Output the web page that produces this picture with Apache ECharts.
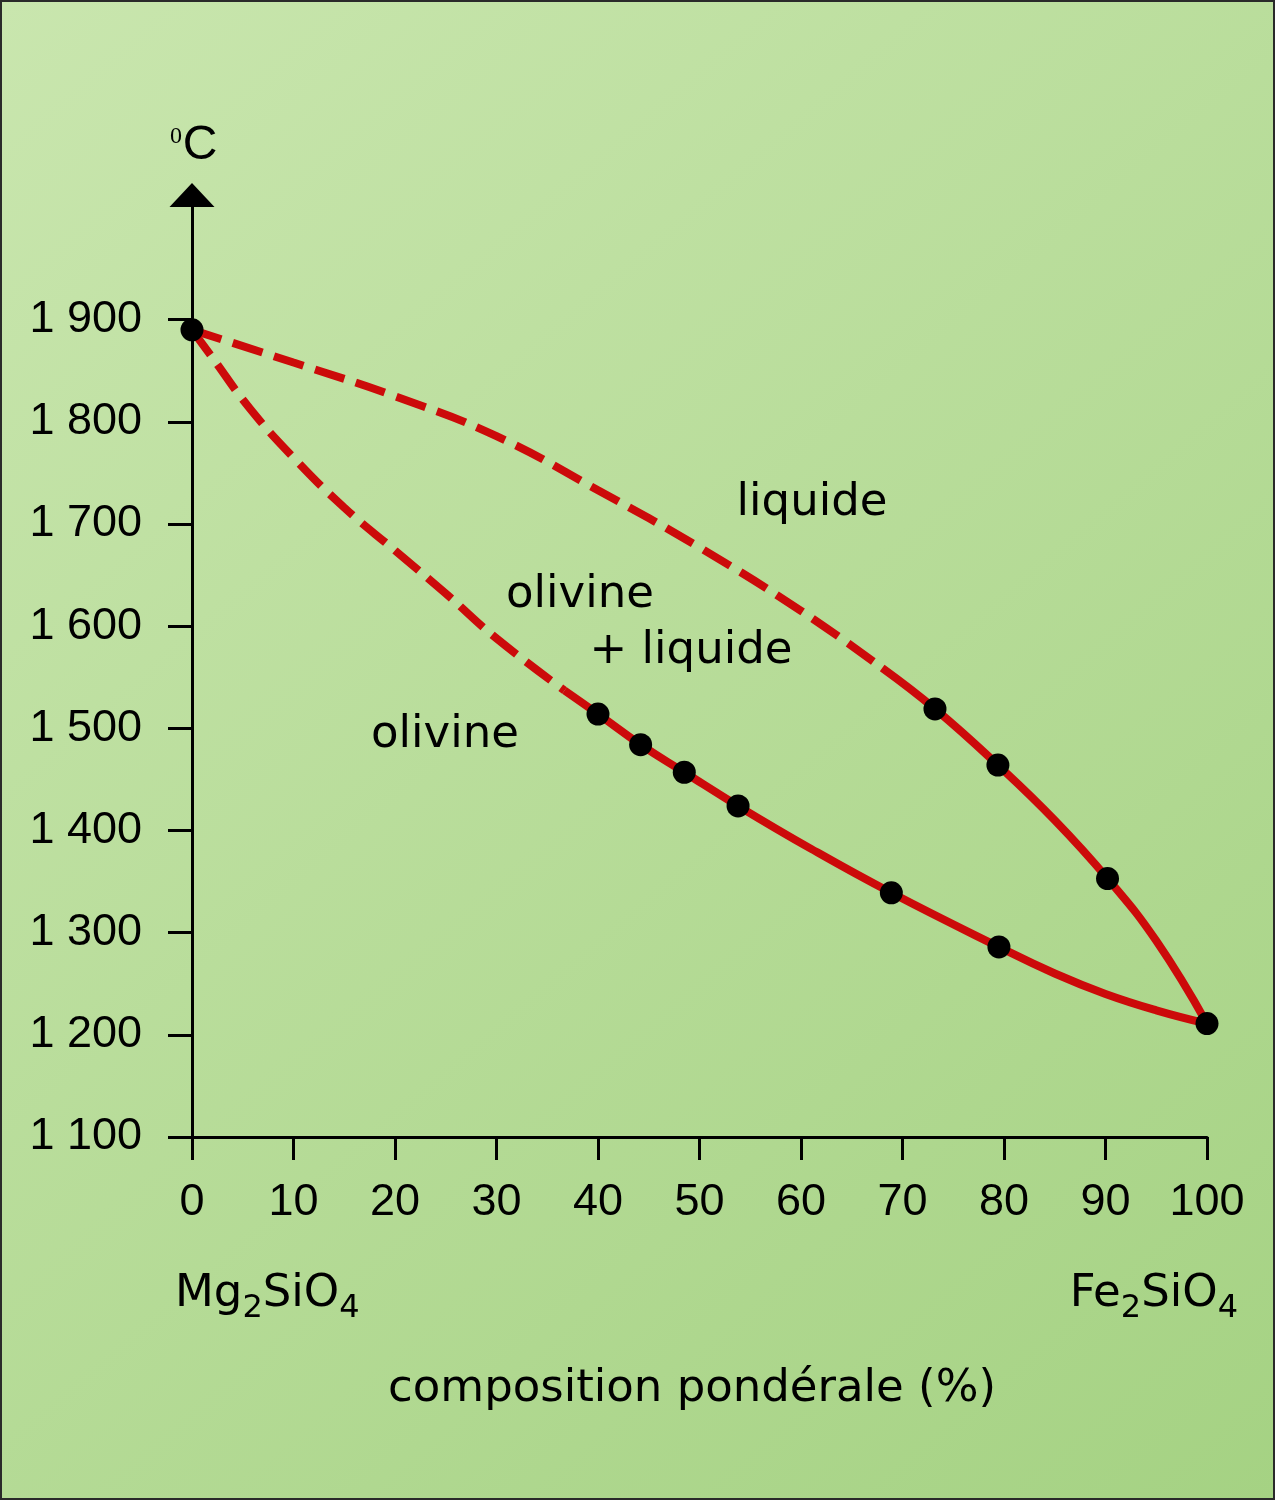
<!DOCTYPE html>
<html>
<head>
<meta charset="utf-8">
<script src="https://cdn.jsdelivr.net/npm/echarts@6/dist/echarts.min.js"></script>
<style>
html,body{margin:0;padding:0;background:#fff;}
#chart{width:1275px;height:1500px;}
</style>
</head>
<body>
<div id="chart"></div>
<script>
// ---- data ----
const xTicks = [0,10,20,30,40,50,60,70,80,90,100];
const yTicks = [1100,1200,1300,1400,1500,1600,1700,1800,1900];

// liquidus (upper curve): composition %, temperature °C
const liquidusComp = [0, 10, 20, 30, 40, 50, 60, 68, 73.2, 79.4, 85, 90.2, 95, 100];
const liquidusTemp = [1890, 1858, 1825, 1786, 1733, 1677, 1615, 1559, 1519, 1464, 1410, 1353, 1292, 1211];
const liquidusDashEnd = 7; // index where the dashed part ends

// solidus (lower curve)
const solidusComp = [0, 2, 5.7, 10, 15, 20, 25, 30, 36.7, 40, 44.2, 48.5, 53.8, 61, 68.9, 79.5, 85, 90, 95, 100];
const solidusTemp = [1890, 1863, 1813, 1765, 1716, 1674, 1632, 1588, 1537, 1514, 1484, 1457, 1424, 1382, 1339, 1286, 1260, 1240, 1224, 1211];
const solidusDashEnd = 8;

// measured points (black dots)
const pointComp = [0, 73.2, 79.4, 90.2, 100, 40.0, 44.2, 48.5, 53.8, 68.9, 79.5];
const pointTemp = [1890, 1519, 1464, 1353, 1211, 1514, 1484, 1457, 1424, 1339, 1286];

const yAxisTop = 2022; // axis line extends above 1900 up to the arrow

// ---- build ----
function pairs(xs, ys, a, b){ const out=[]; for(let i=a;i<=b;i++) out.push([xs[i], ys[i]]); return out; }
const RED = '#cc0a0a';
const numFont = '"Liberation Sans", Arial, sans-serif';
const txtFont = '"DejaVu Sans", sans-serif';

// formula labels with subscripts: pieces laid out by measured widths
const mctx = document.createElement('canvas').getContext('2d');
function formula(parts, x, baseline, alignRight){
  const big = 45, small = 32;
  const w = parts.map((p,i) => { mctx.font = (i % 2 ? small : big) + 'px ' + txtFont; return mctx.measureText(p).width; });
  const total = w.reduce((a,b)=>a+b, 0);
  let cx = alignRight ? x - total : x;
  const out = [];
  parts.forEach((p,i) => {
    const sub = i % 2 === 1;
    out.push({type: 'text', x: cx, y: sub ? baseline + 10 - 0.35*small : baseline - 0.35*big,
      style: {text: p, fontFamily: txtFont, fontSize: sub ? small : big, fill: '#000', align: 'left', verticalAlign: 'middle'}});
    cx += w[i];
  });
  return out;
}

const chart = echarts.init(document.getElementById('chart'), null, {renderer:'canvas'});
const curve = (data, dashed) => ({
  type: 'line', data, smooth: 0.45, showSymbol: false, silent: true,
  lineStyle: dashed ? {color: RED, width: 8, type: [31, 12], cap: 'butt'} : {color: RED, width: 8},
  z: 2
});
const option = {
  animation: false,
  backgroundColor: {
    type: 'linear', x: 0, y: 0, x2: 1, y2: 1,
    colorStops: [{offset: 0, color: '#c9e6ae'}, {offset: 1, color: '#a5d283'}]
  },
  grid: {left: 192, right: 68, top: 195, bottom: 363, containLabel: false},
  xAxis: {
    type: 'value', min: 0, max: 100, interval: 10,
    axisLine: {lineStyle: {color: '#000', width: 3}},
    axisTick: {show: true, inside: false, length: 23, lineStyle: {color: '#000', width: 3}},
    axisLabel: {margin: 43, fontFamily: numFont, fontSize: 45, color: '#000'},
    splitLine: {show: false}
  },
  yAxis: {
    type: 'value', min: 1100, max: yAxisTop,
    axisLine: {show: true, lineStyle: {color: '#000', width: 3}, symbol: ['none', 'triangle'], symbolSize: [45, 24]},
    axisTick: {show: true, inside: false, length: 24, customValues: yTicks, lineStyle: {color: '#000', width: 3}},
    axisLabel: {margin: 50, fontFamily: numFont, fontSize: 45, color: '#000', customValues: yTicks,
      formatter: v => String(v).replace(/^(\d)(\d{3})$/, '$1 $2')},
    splitLine: {show: false}
  },
  series: [
    curve(pairs(liquidusComp, liquidusTemp, 0, liquidusDashEnd), true),
    curve(pairs(liquidusComp, liquidusTemp, liquidusDashEnd, liquidusComp.length-1), false),
    curve(pairs(solidusComp, solidusTemp, 0, solidusDashEnd), true),
    curve(pairs(solidusComp, solidusTemp, solidusDashEnd, solidusComp.length-1), false),
    {type: 'scatter', data: pointComp.map((c,i)=>[c, pointTemp[i]]), symbol: 'circle', symbolSize: 23,
      itemStyle: {color: '#000', opacity: 1}, silent: true, z: 5}
  ],
  graphic: [
    {type: 'rect', shape: {x: 1, y: 1, width: 1273, height: 1498}, style: {fill: 'none', stroke: '#2a2a2a', lineWidth: 2}, z: 100},
    {type: 'text', x: 176, y: 137, style: {text: '0', fontFamily: '"Liberation Serif", serif', fontSize: 24, fill: '#000', align: 'center', verticalAlign: 'middle'}},
    {type: 'text', x: 200, y: 146, style: {text: 'C', fontFamily: numFont, fontSize: 48, fill: '#000', align: 'center', verticalAlign: 'middle'}},
    {type: 'text', x: 812, y: 503, style: {text: 'liquide', fontFamily: txtFont, fontSize: 45, fill: '#000', align: 'center', verticalAlign: 'middle'}},
    {type: 'text', x: 580, y: 595, style: {text: 'olivine', fontFamily: txtFont, fontSize: 45, fill: '#000', align: 'center', verticalAlign: 'middle'}},
    {type: 'text', x: 691, y: 651, style: {text: '+ liquide', fontFamily: txtFont, fontSize: 45, fill: '#000', align: 'center', verticalAlign: 'middle'}},
    {type: 'text', x: 445, y: 735, style: {text: 'olivine', fontFamily: txtFont, fontSize: 45, fill: '#000', align: 'center', verticalAlign: 'middle'}},
    {type: 'text', x: 692, y: 1389, style: {text: 'composition pondérale (%)', fontFamily: txtFont, fontSize: 45, fill: '#000', align: 'center', verticalAlign: 'middle'}}
  ].concat(formula(['Mg', '2', 'SiO', '4'], 175, 1310, false), formula(['Fe', '2', 'SiO', '4'], 1238, 1310, true))
};
chart.setOption(option);
</script>
</body>
</html>
